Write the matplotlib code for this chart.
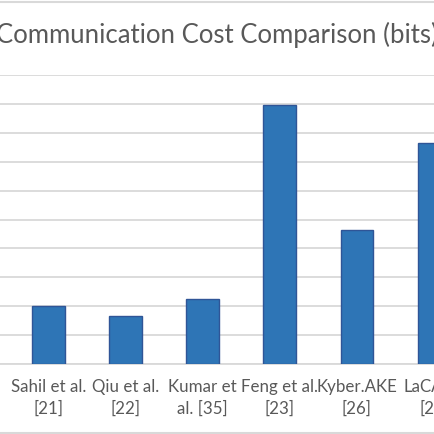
import matplotlib
matplotlib.use("Agg")
import matplotlib.pyplot as plt
from matplotlib.lines import Line2D

categories = ["Sahil et al.\n[21]", "Qiu et al.\n[22]", "Kumar et\nal. [35]",
              "Feng et al.\n[23]", "Kyber.AKE\n[26]", "LaCAKE\n[27]"]
values = [2.0, 1.66, 2.24, 8.97, 4.65, 7.66]
y_ticks = [0, 1, 2, 3, 4, 5, 6, 7, 8, 9, 10]
title = "Communication Cost Comparison (bits)"

W = H = 434
fig = plt.figure(figsize=(W / 100, H / 100), dpi=100)
fig.patch.set_facecolor("white")

plt.rcParams["font.family"] = ["Lato", "DejaVu Sans"]

ax = fig.add_axes([0, (H - 364) / H, 1, (364 - 75) / H])
x = list(range(len(categories)))
ax.bar(x, values, width=0.423, color="#2E75B6", edgecolor="#2F5597", linewidth=1.0, zorder=3)
ax.set_xlim(-49 / 78, (434 - 49) / 78)
ax.set_ylim(0, 10)
ax.set_yticks(y_ticks)
ax.yaxis.grid(True, color="#D9D9D9", linewidth=1.3, zorder=0)
ax.set_axisbelow(True)
for s in ["top", "right", "left"]:
    ax.spines[s].set_visible(False)
ax.spines["bottom"].set_color("#D9D9D9")
ax.spines["bottom"].set_linewidth(1.3)
ax.tick_params(axis="y", left=False, labelleft=False)
ax.tick_params(axis="x", length=0, pad=11)
ax.set_xticks(x)
ax.set_xticklabels(categories, fontsize=12.2, color="#595959", linespacing=1.4)

fig.text(0.5, (H - 43) / H, title, ha="center", va="baseline", fontsize=18.5, color="#595959")

# chart border lines (top and bottom)
fig.add_artist(Line2D([0, 1], [(H - 1.5) / H] * 2, color="#D9D9D9", linewidth=1.5))
fig.add_artist(Line2D([0, 1], [(H - 432.5) / H] * 2, color="#D9D9D9", linewidth=1.5))

fig.savefig("out.png", dpi=100)
